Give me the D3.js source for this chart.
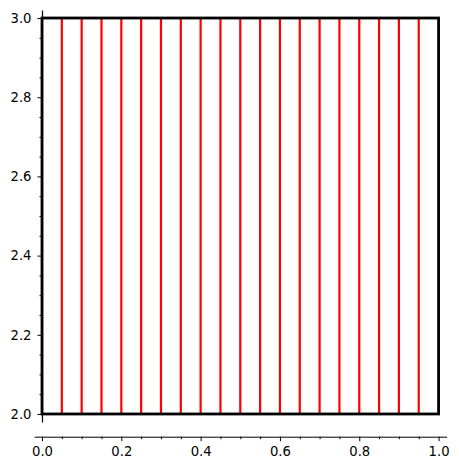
<!DOCTYPE html>
<html><head><meta charset="utf-8">
<script src="https://cdn.jsdelivr.net/npm/d3@7"></script>
<style>body{margin:0;background:#fff}svg{display:block}</style>
</head><body>
<script>
const lineXs = [0.05,0.10,0.15,0.20,0.25,0.30,0.35,0.40,0.45,0.50,0.55,0.60,0.65,0.70,0.75,0.80,0.85,0.90,0.95];
const rectX = [0, 1];
const rectY = [2, 3];
const xTickLabels = [0.0,0.2,0.4,0.6,0.8,1.0];
const yTickLabels = [2.0,2.2,2.4,2.6,2.8,3.0];
const xMinor = [0.05,0.1,0.15,0.25,0.3,0.35,0.45,0.5,0.55,0.65,0.7,0.75,0.85,0.9,0.95];
const yMinor = [2.05,2.1,2.15,2.25,2.3,2.35,2.45,2.5,2.55,2.65,2.7,2.75,2.85,2.9,2.95];

const W=459,H=470;
const svg=d3.select("body").append("svg").attr("width",W).attr("height",H);
const x=d3.scaleLinear().domain([-0.02,1.02]).range([34.07,446.5]);
const y=d3.scaleLinear().domain([1.98,3.02]).range([421.9,10.1]);
const xAxisY=436.7;

// x axis
const gx=svg.append("g").attr("transform",`translate(0,${xAxisY})`)
  .call(d3.axisBottom(x).tickValues(xTickLabels).tickFormat(d3.format(".1f")).tickSizeOuter(0).tickSizeInner(4.5).tickPadding(5));
gx.attr("font-family","DejaVu Sans").attr("font-size",13.2);
gx.selectAll("text").attr("fill","#000");
gx.select(".domain").attr("stroke-width",1);
const gxm=svg.append("g").attr("transform",`translate(0,${xAxisY})`)
  .call(d3.axisBottom(x).tickValues(xMinor).tickFormat("").tickSizeOuter(0).tickSizeInner(2.5));
gxm.select(".domain").remove();

// y axis
const gy=svg.append("g").attr("transform",`translate(${x(0)},0)`)
  .call(d3.axisLeft(y).tickValues(yTickLabels).tickFormat(d3.format(".1f")).tickSizeOuter(0).tickSizeInner(4.5).tickPadding(6));
gy.attr("font-family","DejaVu Sans").attr("font-size",13.2);
gy.selectAll("text").attr("fill","#000");
gy.select(".domain").attr("stroke-width",1.2);
const gym=svg.append("g").attr("transform",`translate(${x(0)},0)`)
  .call(d3.axisLeft(y).tickValues(yMinor).tickFormat("").tickSizeOuter(0).tickSizeInner(2.5));
gym.select(".domain").remove();

// red lines
svg.append("g").selectAll("line").data(lineXs).join("line")
  .attr("x1",d=>x(d)).attr("x2",d=>x(d))
  .attr("y1",y(rectY[0])).attr("y2",y(rectY[1]))
  .attr("stroke","#ff0000").attr("stroke-width",2.2);

// rectangle
svg.append("rect")
  .attr("x",x(rectX[0])).attr("y",y(rectY[1]))
  .attr("width",x(rectX[1])-x(rectX[0])).attr("height",y(rectY[0])-y(rectY[1]))
  .attr("fill","none").attr("stroke","#000").attr("stroke-width",2.8);
</script>
</body></html>
